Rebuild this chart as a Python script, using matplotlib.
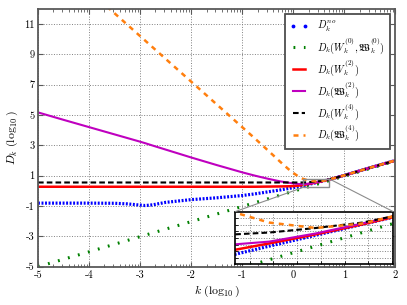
import numpy as np
import matplotlib
matplotlib.use("Agg")
import matplotlib.pyplot as plt
from matplotlib.lines import Line2D
from matplotlib.patches import Rectangle, ConnectionPatch

plt.rcParams["font.family"] = "serif"
plt.rcParams["font.serif"] = ["cmr10"]
plt.rcParams["mathtext.fontset"] = "cm"
plt.rcParams["axes.unicode_minus"] = False
plt.rcParams["axes.formatter.use_mathtext"] = False

# k (log10) sample points
k = [-5, -4.5, -4, -3.5, -3.25, -3, -2.9, -2.75, -2.5, -2, -1.5, -1, -0.75, -0.5,
     -0.25, -0.1, 0, 0.1, 0.19, 0.3, 0.45, 0.6, 0.7, 0.85, 1, 1.5, 2]

d_no = [-0.81, -0.81, -0.81, -0.82, -0.86, -0.94, -0.97, -0.92, -0.76, -0.58, -0.46, -0.31,
        -0.2, -0.07, 0.06, 0.15, 0.21, 0.27, 0.33, 0.42, 0.54, 0.66, 0.74, 0.88, 1.02, 1.52, 2.0]

d_w2 = [0.27, 0.27, 0.27, 0.27, 0.27, 0.27, 0.27, 0.27, 0.27, 0.27, 0.27, 0.27,
        0.27, 0.28, 0.29, 0.30, 0.31, 0.34, 0.38, 0.45, 0.55, 0.66, 0.74, 0.88, 1.02, 1.52, 2.0]

d_fw2 = [5.17, 4.68, 4.2, 3.72, 3.48, 3.24, 3.14, 2.98, 2.72, 2.2, 1.7, 1.22,
         1.0, 0.8, 0.62, 0.54, 0.49, 0.45, 0.44, 0.47, 0.56, 0.67, 0.75, 0.88, 1.02, 1.52, 2.0]

d_w4 = [0.55, 0.55, 0.55, 0.55, 0.55, 0.55, 0.55, 0.55, 0.55, 0.55, 0.55, 0.55,
        0.55, 0.55, 0.55, 0.55, 0.55, 0.55, 0.55, 0.57, 0.62, 0.68, 0.75, 0.88, 1.02, 1.52, 2.0]

k_fw4 = [-3.65, -3.5, -3.25, -3, -2.75, -2.5, -2, -1.5, -1, -0.75, -0.5, -0.25, -0.1,
         0, 0.1, 0.19, 0.3, 0.45, 0.6, 0.7, 0.85, 1, 1.5, 2]
d_fw4 = [12.15, 11.7, 10.95, 10.2, 9.45, 8.7, 7.2, 5.7, 4.2, 3.45, 2.68, 1.9, 1.45,
         1.18, 0.95, 0.79, 0.68, 0.62, 0.67, 0.75, 0.88, 1.02, 1.52, 2.0]

k_w0 = [-5, -4, -3, -2, -1, 0, 1, 2]
d_w0 = [-5.0, -4.02, -3.02, -2.03, -1.03, -0.03, 0.97, 1.97]

labels = [r"$D_k^{no}$",
          r"$D_k(W_k^{(0)},\mathfrak{W}_k^{(0)})$",
          r"$D_k(W_k^{(2)})$",
          r"$D_k(\mathfrak{W}_k^{(2)})$",
          r"$D_k(W_k^{(4)})$",
          r"$D_k(\mathfrak{W}_k^{(4)})$"]

orange = "#ff7f0e"


def draw(a):
    a.plot(k, d_no, color="b", ls=(0, (0.6, 0.5)), lw=2.3)
    a.plot(k_w0, d_w0, color="g", ls=(0, (0.6, 2.8)), lw=2.2)
    a.plot(k, d_w2, color="r", lw=1.8)
    a.plot(k, d_fw2, color="m", lw=1.5)
    a.plot(k, d_w4, color="k", ls=(0, (2.7, 1.5)), lw=1.5)
    a.plot(k_fw4, d_fw4, color=orange, ls=(0, (2, 2)), lw=1.8)


fig = plt.figure(figsize=(4.07, 3.05), dpi=100)
ax = fig.add_axes([0.0934, 0.1256, 0.8779, 0.8456])
draw(ax)

ax.set_xlim(-5, 2)
ax.set_ylim(-5, 12)
ax.set_xticks(range(-5, 3))
ax.set_yticks(range(-5, 12, 2))
ax.set_xticks([n + np.log10(m) for n in range(-5, 2) for m in range(2, 10)], minor=True)
ax.tick_params(direction="in", top=True, right=True, length=3.5, width=0.8,
               color="0.35", labelsize=7.5, pad=2.5)
ax.tick_params(which="minor", direction="in", top=True, length=2, width=0.6, color="0.35")
ax.grid(True, color="0.5", ls=":", lw=0.7)
for s in ax.spines.values():
    s.set_color("0.35")
    s.set_linewidth(1.3)

ax.set_xlabel(r"$k\ (\log_{10})$", fontsize=8.5, labelpad=3)
ax.set_ylabel(r"$D_k\ (\log_{10})$", fontsize=8.5, labelpad=3)

handles = [Line2D([], [], color="b", marker=".", ls="none", markersize=3.5)]
handles += ax.get_lines()[1:]
leg = ax.legend(handles, labels, loc="upper right", bbox_to_anchor=(0.985, 0.980),
                borderaxespad=0, fontsize=7.3, numpoints=2, handlelength=1.8,
                handletextpad=0.9, labelspacing=0.15, borderpad=0.5,
                fancybox=False, edgecolor="0.3", framealpha=1)
leg.get_frame().set_linewidth(1.3)

# zoomed inset
x1, x2, y1, y2 = 0.19, 0.70, 0.22, 0.80
axins = ax.inset_axes([0.5514, 0.0093, 0.443, 0.204])
draw(axins)
axins.set_xlim(x1, x2)
axins.set_ylim(y1, y2)
axins.set_xticks(np.arange(0.237, x2, 0.0765))
axins.set_yticks(np.arange(0.29, y2, 0.073))
axins.tick_params(direction="in", labelbottom=False, labelleft=False,
                  length=2.5, width=0.6)
axins.grid(True, color="0.5", ls=":", lw=0.7)
for s in axins.spines.values():
    s.set_color("k")
    s.set_linewidth(1.2)

ax.add_patch(Rectangle((x1, y1), x2 - x1, y2 - y1, fill=False, ec="0.55", lw=1.0, zorder=4))
for xyA, xyB in [((x1, y1), (0, 1)), ((x2, y2), (1, 1))]:
    con = ConnectionPatch(xyA=xyA, coordsA=ax.transData, xyB=xyB, coordsB=axins.transAxes,
                          color="0.55", lw=0.8)
    fig.add_artist(con)

fig.savefig("out.png", dpi=100)
